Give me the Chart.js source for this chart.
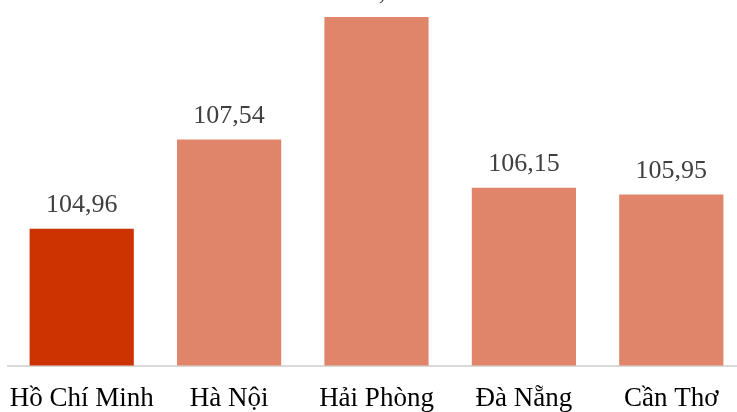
<!DOCTYPE html>
<html><head><meta charset="utf-8">
<script src="https://cdn.jsdelivr.net/npm/chart.js@4/dist/chart.umd.min.js"></script>
<style>html,body{margin:0;padding:0;overflow:hidden;background:#fff}#wrap{width:745px;height:412px}</style>
</head><body><div id="wrap"><canvas id="c" width="745" height="412"></canvas></div>
<script>
const categories = ["Hồ Chí Minh", "Hà Nội", "Hải Phòng", "Đà Nẵng", "Cần Thơ"];
const values = [104.96, 107.54, 111.09, 106.15, 105.95];
const barColors = ["#CC3300", "#E0856A", "#E0856A", "#E0856A", "#E0856A"];

const labelPlugin = {
  id: 'valueLabels',
  afterDatasetsDraw(chart) {
    const ctx = chart.ctx;
    ctx.save();
    ctx.font = '26px "Liberation Serif", "Times New Roman", serif';
    ctx.fillStyle = '#404040';
    ctx.textAlign = 'center';
    ctx.textBaseline = 'alphabetic';
    chart.getDatasetMeta(0).data.forEach((bar, i) => {
      const txt = values[i].toFixed(2).replace('.', ',');
      ctx.fillText(txt, bar.x, bar.y - 17);
    });
    ctx.restore();
  }
};

new Chart(document.getElementById('c'), {
  type: 'bar',
  data: {
    labels: categories,
    datasets: [{ data: values, backgroundColor: barColors, borderWidth: 0,
      categoryPercentage: 1.0, barPercentage: 0.707 }]
  },
  options: {
    responsive: false,
    animation: false,
    layout: { padding: { left: 8, right: 0, top: 0, bottom: -20 } },
    plugins: { legend: { display: false }, tooltip: { enabled: false } },
    scales: {
      y: { display: false, min: 101, max: 111.58 },
      x: {
        afterFit: (s) => { s.paddingLeft = 0; s.paddingRight = 0; },
        grid: { display: false, drawTicks: false },
        border: { display: true, color: '#D9D9D9', width: 2 },
        ticks: { color: '#000', padding: 17, maxRotation: 0,
          font: { family: '"Liberation Serif", "Times New Roman", serif', size: 27 } }
      }
    }
  },
  plugins: [labelPlugin]
});
</script></body></html>
